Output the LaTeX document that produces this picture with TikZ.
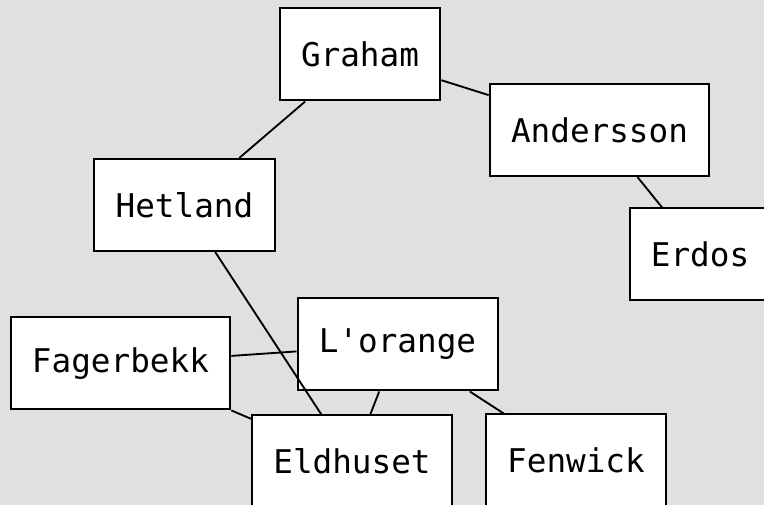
\documentclass[tikz,border=0pt]{standalone}
\usepackage{fontspec}
\setmonofont{DejaVu Sans Mono}
\usetikzlibrary{positioning}
\definecolor{bggray}{RGB}{224,224,224}

\tikzset{
    person/.style={draw=black, line width=1.5pt, fill=white, inner xsep=16pt,
        minimum height=69pt, font=\fontsize{24.5}{29}\selectfont\ttfamily},
    link/.style={draw=black, line width=1.4pt}
}

\begin{document}
\begin{tikzpicture}[x=0.75pt, y=-0.75pt]
    \fill[bggray] (0,0) rectangle (764,505);
    \useasboundingbox (0,0) rectangle (764,505);

    \node[person] (graham)    at (360,54.5)   {Graham};
    \node[person] (andersson) at (599.5,130)  {Andersson};
    \node[person] (hetland)   at (184.5,205)  {Hetland};
    \node[person] (erdos)     at (700,254.5)  {Erdos};
    \node[person] (fagerbekk) at (120.5,363.5) {Fagerbekk};
    \node[person] (lorange)   at (397.5,344.5) {L'orange};
    \node[person] (eldhuset)  at (352,461.5)  {Eldhuset};
    \node[person] (fenwick)   at (576,460.5)  {Fenwick};

    % connections
    \draw[link] (graham) -- (hetland);
    \draw[link] (graham) -- (andersson);
    \draw[link] (andersson) -- (erdos);
    \draw[link] (hetland) -- (eldhuset);
    \draw[link] (fagerbekk) -- (lorange);
    \draw[link] (fagerbekk) -- (eldhuset);
    \draw[link] (lorange) -- (eldhuset);
    \draw[link] (lorange) -- (fenwick);
\end{tikzpicture}
\end{document}
